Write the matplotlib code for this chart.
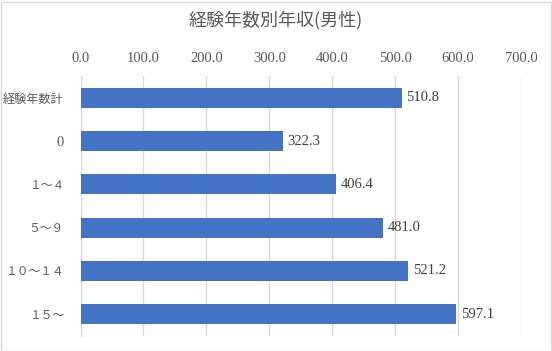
import matplotlib.pyplot as plt
from matplotlib.patches import Rectangle

categories = ['経験年数計', '0', '１～４', '５～９', '１０～１４', '１５～']
values = [510.8, 322.3, 406.4, 481.0, 521.2, 597.1]
ticks = [0, 100, 200, 300, 400, 500, 600, 700]

plt.rcParams['font.family'] = ['Liberation Serif', 'Noto Sans CJK JP', 'DejaVu Sans']

TXT = '#595959'
fig = plt.figure(figsize=(5.52, 3.51), dpi=100)
ax = fig.add_axes([80.5 / 552, 15 / 351, 440.5 / 552, 260 / 351])

y = list(range(len(categories)))
bars = ax.barh(y, values, height=0.465, color='#4472C4', zorder=3)
for b, v in zip(bars, values):
    ax.text(v + 7, b.get_y() + b.get_height() / 2, f'{v:.1f}',
            va='center', ha='left', fontsize=10.5, color='#404040')

ax.set_xlim(0, 700)
ax.set_ylim(len(categories) - 0.5, -0.5)
ax.set_xticks(ticks)
ax.set_xticklabels([f'{t:.1f}' for t in ticks], fontsize=10.5, color=TXT)
ax.xaxis.tick_top()
ax.tick_params(axis='x', length=0, pad=8)
ax.set_yticks(y)
ax.set_yticklabels(categories, fontsize=8.5, color=TXT)
ax.tick_params(axis='y', length=0, pad=12)
labels = ax.get_yticklabels()
labels[0].set_family(['Noto Sans CJK JP'])
labels[0].set_fontsize(8.7)
labels[1].set_fontsize(10.5)
ax.grid(axis='x', color='#D9D9D9', linewidth=1, zorder=0)
for s in ['top', 'right', 'bottom']:
    ax.spines[s].set_visible(False)
ax.spines['left'].set_color('#D9D9D9')

fig.text(0.5, 1 - 20 / 351, '経験年数別年収(男性)', ha='center', va='center',
         fontsize=13, color=TXT, family=['Noto Sans CJK JP'])
fig.patches.append(Rectangle((0.5 / 552, 0.5 / 351), 550 / 552, 349 / 351,
                             transform=fig.transFigure, fill=False,
                             edgecolor='#D9D9D9', linewidth=1))

fig.savefig('out.png', dpi=100)
